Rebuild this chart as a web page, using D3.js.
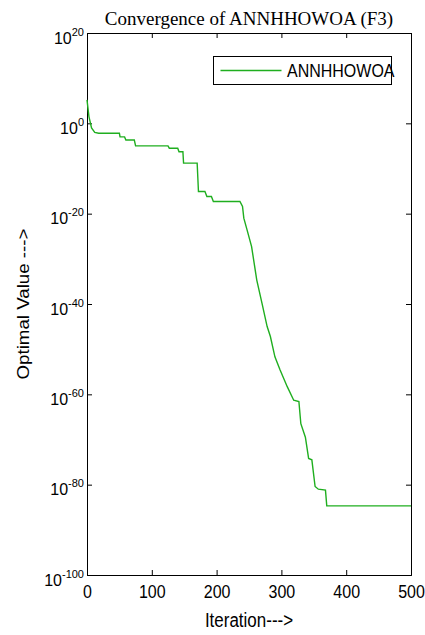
<!DOCTYPE html>
<html>
<head>
<meta charset="utf-8">
<script src="https://cdn.jsdelivr.net/npm/d3@7"></script>
<style>
  body { margin: 0; background: #fff; }
  svg { display: block; }
  .axis path, .axis line { stroke: #000; }
  .axis text { font-family: "Liberation Sans", Arial, sans-serif; font-size: 16px; fill: #000; }
</style>
</head>
<body>
<div id="chart"></div>
<script>
/**
 * DATA
 * */
const title = "Convergence of ANNHHOWOA (F3)",
  seriesName = "ANNHHOWOA",
  xLabel = "Iteration--->",
  yLabel = "Optimal Value --->";

// iteration number of each read point
const iterations = [0, 3, 7, 12, 18, 50, 51, 58, 60, 73, 75, 125, 127, 140, 142, 148, 149, 170, 172,
  182, 185, 192, 195, 236, 240, 242, 247, 254, 262, 270, 278, 283, 290, 298, 309, 319, 327,
  330, 337, 342, 347, 352, 357, 368, 370, 500];
// best value found, as a power of ten
const exponents = [5.2, 1.5, -1.0, -2.0, -2.2, -2.2, -3.0, -3.0, -3.7, -3.7, -5.0, -5.0, -5.5, -5.5, -6.3, -6.3, -8.8, -8.8, -15.1,
  -15.1, -16.2, -16.2, -17.3, -17.3, -18.4, -21.0, -23.6, -27.3, -34.7, -39.8, -45.0, -47.2, -51.7, -54.6, -58.3, -61.3, -61.6,
  -66.5, -69.5, -74.2, -74.5, -80.4, -81.0, -81.2, -84.7, -84.7];

const xTicks = [0, 100, 200, 300, 400, 500];
const yTickExps = [20, 0, -20, -40, -60, -80, -100];

/**
 * CONSTANTS
 * */
const width = 425,
  height = 635,
  margin = { top: 33, bottom: 60, left: 87, right: 14 },
  lineColor = "#1fae1f",
  stretch = 1.15; // the picture is a little taller than wide text suggests

const data = iterations.map((it, i) => ({ x: it, y: Math.pow(10, exponents[i]) }));

const svg = d3.select("#chart")
  .append("svg")
  .attr("width", width)
  .attr("height", height);

// SCALES
const xScale = d3.scaleLinear()
  .domain([0, 500])
  .range([margin.left, width - margin.right]);

const yScale = d3.scaleLog()
  .domain([1e-100, 1e20])
  .range([height - margin.bottom, margin.top]);

// AXES (matlab style: ticks pointing inward, box all round)
const yVals = yTickExps.map(e => Math.pow(10, e));

svg.append("g")
  .attr("class", "axis x-axis")
  .attr("transform", `translate(0,${height - margin.bottom})`)
  .call(d3.axisBottom(xScale).tickValues(xTicks).tickSize(-5))
  .call(g => g.selectAll(".tick text")
    .attr("font-size", "15px")
    .attr("dy", 0)
    .attr("y", 23 / 1.2)
    .attr("transform", "scale(1,1.2)"));

svg.append("g")
  .attr("class", "axis")
  .attr("transform", `translate(0,${margin.top})`)
  .call(d3.axisTop(xScale).tickValues(xTicks).tickSize(-5).tickFormat(""));

const yAxisG = svg.append("g")
  .attr("class", "axis y-axis")
  .attr("transform", `translate(${margin.left},0)`)
  .call(d3.axisLeft(yScale).tickValues(yVals).tickSize(-5).tickFormat(""));

svg.append("g")
  .attr("class", "axis")
  .attr("transform", `translate(${width - margin.right},0)`)
  .call(d3.axisRight(yScale).tickValues(yVals).tickSize(-5).tickFormat(""));

// power-of-ten labels with superscripts
yAxisG.selectAll(".tick text")
  .attr("dy", 0)
  .attr("y", 10)
  .attr("x", -3)
  .each(function(d) {
    const t = d3.select(this);
    const e = Math.round(Math.log10(d));
    t.append("tspan").text("10");
    t.append("tspan")
      .attr("dy", "-8")
      .attr("font-size", "11px")
      .text(e);
  });

// LINE
const line = d3.line()
  .x(d => xScale(d.x))
  .y(d => yScale(d.y));

svg.append("path")
  .datum(data)
  .attr("fill", "none")
  .attr("stroke", lineColor)
  .attr("stroke-width", 1.4)
  .attr("d", line);

// TITLE
svg.append("text")
  .attr("x", (margin.left + width - margin.right) / 2)
  .attr("y", 25)
  .attr("text-anchor", "middle")
  .attr("font-family", "'Liberation Serif', 'Times New Roman', serif")
  .attr("font-size", "19px")
  .text(title);

// AXIS LABELS
svg.append("text")
  .attr("transform", `translate(${(margin.left + width - margin.right) / 2},626.5) scale(1,${stretch})`)
  .attr("text-anchor", "middle")
  .attr("font-family", "'Liberation Sans', Arial, sans-serif")
  .attr("font-size", "17px")
  .text(xLabel);

svg.append("text")
  .attr("transform", `translate(29,${(margin.top + height - margin.bottom) / 2}) rotate(-90) scale(1.17,1)`)
  .attr("text-anchor", "middle")
  .attr("font-family", "'Liberation Sans', Arial, sans-serif")
  .attr("font-size", "16px")
  .text(yLabel);

// LEGEND
const legend = svg.append("g").attr("transform", "translate(213.5,56.5)");
legend.append("rect")
  .attr("width", 178)
  .attr("height", 28)
  .attr("fill", "#fff")
  .attr("stroke", "#000");
legend.append("line")
  .attr("x1", 7).attr("x2", 68)
  .attr("y1", 14).attr("y2", 14)
  .attr("stroke", lineColor)
  .attr("stroke-width", 1.4);
legend.append("text")
  .attr("transform", `translate(73.5,20.2) scale(1,${stretch})`)
  .attr("font-family", "'Liberation Sans', Arial, sans-serif")
  .attr("font-size", "16px")
  .text(seriesName);
</script>
</body>
</html>
